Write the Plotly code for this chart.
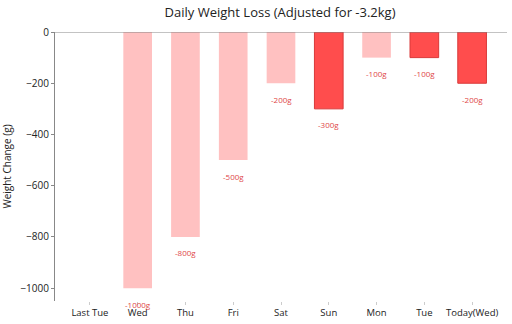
import plotly.graph_objects as go

# Daily weight change values in grams
days = ["Last Tue", "Wed", "Thu", "Fri", "Sat", "Sun", "Mon", "Tue", "Today(Wed)"]
change_g = [0, -1000, -800, -500, -200, -300, -100, -100, -200]
highlight = [False, False, False, False, False, True, False, True, True]
value_labels = ["", "-1000g", "-800g", "-500g", "-200g", "-300g", "-100g", "-100g", "-200g"]

LIGHT = "#FFC1C1"
DARK = "#FF4D4D"
DARK_EDGE = "#D93A3A"

fill = [DARK if h else LIGHT for h in highlight]
edge = [DARK_EDGE if h else LIGHT for h in highlight]
edge_w = [1 if h else 0 for h in highlight]

fig = go.Figure(
    go.Bar(
        x=days,
        y=change_g,
        width=0.6,
        marker=dict(color=fill, line=dict(color=edge, width=edge_w)),
        hoverinfo="skip",
    )
)

# value labels just under the end of each bar
for d, v, t in zip(days, change_g, value_labels):
    if t:
        fig.add_annotation(
            x=d, y=v, text=t, showarrow=False, yshift=-16,
            font=dict(size=8, color="#E04848"),
        )

# baseline at zero along the top of the plot
fig.add_shape(type="line", xref="paper", yref="y", x0=0, x1=1, y0=0, y1=0,
              line=dict(color="#888888", width=1))

fig.update_layout(
    width=512, height=324,
    margin=dict(l=53, r=5, t=32, b=22),
    paper_bgcolor="white", plot_bgcolor="white",
    font=dict(family="Open Sans", color="#222222", size=9),
    title=dict(text="Daily Weight Loss (Adjusted for -3.2kg)", x=0.547, xanchor="center",
               y=0.963, yanchor="middle", font=dict(size=13, color="#222222")),
    showlegend=False,
    bargap=0.4,
)
fig.update_xaxes(
    range=[-0.73, 8.73], showline=False, showgrid=False, zeroline=False,
    ticks="outside", ticklen=3, tickcolor="#cccccc", tickfont=dict(size=9.5),
)
fig.update_yaxes(
    range=[-1050, 0], showline=True, linecolor="#888888", linewidth=1,
    showgrid=False, zeroline=False, ticks="outside", ticklen=3, tickcolor="#888888",
    tickvals=[0, -200, -400, -600, -800, -1000], tickfont=dict(size=10),
    title=dict(text="Weight Change (g)", font=dict(size=10), standoff=8),
)

fig.write_html("out.html")
